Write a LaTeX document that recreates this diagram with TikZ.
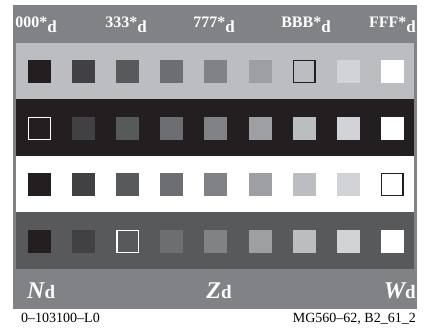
\documentclass[tikz,border=0pt]{standalone}
\usepackage{fontspec}
\setmainfont{Liberation Serif}
\definecolor{g1}{HTML}{231F20}
\definecolor{g2}{HTML}{414042}
\definecolor{g3}{HTML}{58595B}
\definecolor{g4}{HTML}{6D6E71}
\definecolor{g5}{HTML}{808285}
\definecolor{g6}{HTML}{9D9FA2}
\definecolor{g7}{HTML}{BBBDC0}
\definecolor{g8}{HTML}{D1D3D6}
\definecolor{g9}{HTML}{FFFFFF}
\definecolor{panel}{HTML}{808285}
\begin{document}
\begin{tikzpicture}[x=1pt,y=-1pt,
  patch/.style={minimum size=23pt,inner sep=0pt,outer sep=0pt},
  ring/.style={draw=#1,line width=1.4pt},
  toplab/.style={anchor=base,text=white,inner sep=0pt,font=\fontsize{16}{16}\selectfont\bfseries},
  botlab/.style={anchor=base,text=white,inner sep=0pt},
  foot/.style={anchor=base,inner sep=0pt,font=\fontsize{14}{14}\selectfont}]
\useasboundingbox (0,0) rectangle (424,331);
\fill[white] (0,0) rectangle (424,331);
% outer panel
\fill[panel] (13,5) rectangle (417,309);
% bands
\fill[g7] (16,43) rectangle (414,99.5);
\fill[g1] (16,99.5) rectangle (414,156);
\fill[white] (16,156) rectangle (414,212.5);
\fill[g3] (16,212.5) rectangle (414,269);
% patches
\foreach \r/\y in {1/71.5,2/128.5,3/184.5,4/241.5}{
  \foreach \c in {1,...,9}{
    \node[patch,fill=g\c] (p\r\c) at ({39.5+44.1*(\c-1)},\y) {};
  }
}
% outlined patches
\draw[ring=g1] ([shift={(0.7pt,0.7pt)}]p17.south west) rectangle ([shift={(-0.7pt,-0.7pt)}]p17.north east);
\draw[ring=white] ([shift={(0.7pt,0.7pt)}]p21.south west) rectangle ([shift={(-0.7pt,-0.7pt)}]p21.north east);
\draw[ring=g1] ([shift={(0.7pt,0.7pt)}]p39.south west) rectangle ([shift={(-0.7pt,-0.7pt)}]p39.north east);
\draw[ring=white] ([shift={(0.7pt,0.7pt)}]p43.south west) rectangle ([shift={(-0.7pt,-0.7pt)}]p43.north east);
% top labels
\newcommand{\dsub}{\raisebox{-5pt}{\fontsize{17}{17}\selectfont d}}
\node[toplab] (t1) at (36,28) {000*\dsub};
\node[toplab] (t3) at (126,28) {333*\dsub};
\node[toplab] (t5) at (214,28) {777*\dsub};
\node[toplab] (t7) at (306,28) {BBB*\dsub};
\node[toplab,anchor=base east] (t9) at (416,28) {FFF*\dsub};
% bottom labels
\node[botlab,anchor=base west] (nd) at (27,299) {\fontsize{24}{24}\selectfont\bfseries\itshape N\upshape\fontsize{19}{19}\selectfont d};
\node[botlab] (zd) at (219,299) {\fontsize{24}{24}\selectfont\bfseries\itshape Z\upshape\fontsize{19}{19}\selectfont d};
\node[botlab,anchor=base east] (wd) at (416,299) {\fontsize{24}{24}\selectfont\bfseries\itshape W\upshape\fontsize{19}{19}\selectfont d};
% footer
\node[foot,anchor=base west] (f1) at (21,323) {0--103100--L0};
\node[foot,anchor=base east] (f2) at (416,323) {MG560--62, B2\_61\_2};
\end{tikzpicture}
\end{document}
